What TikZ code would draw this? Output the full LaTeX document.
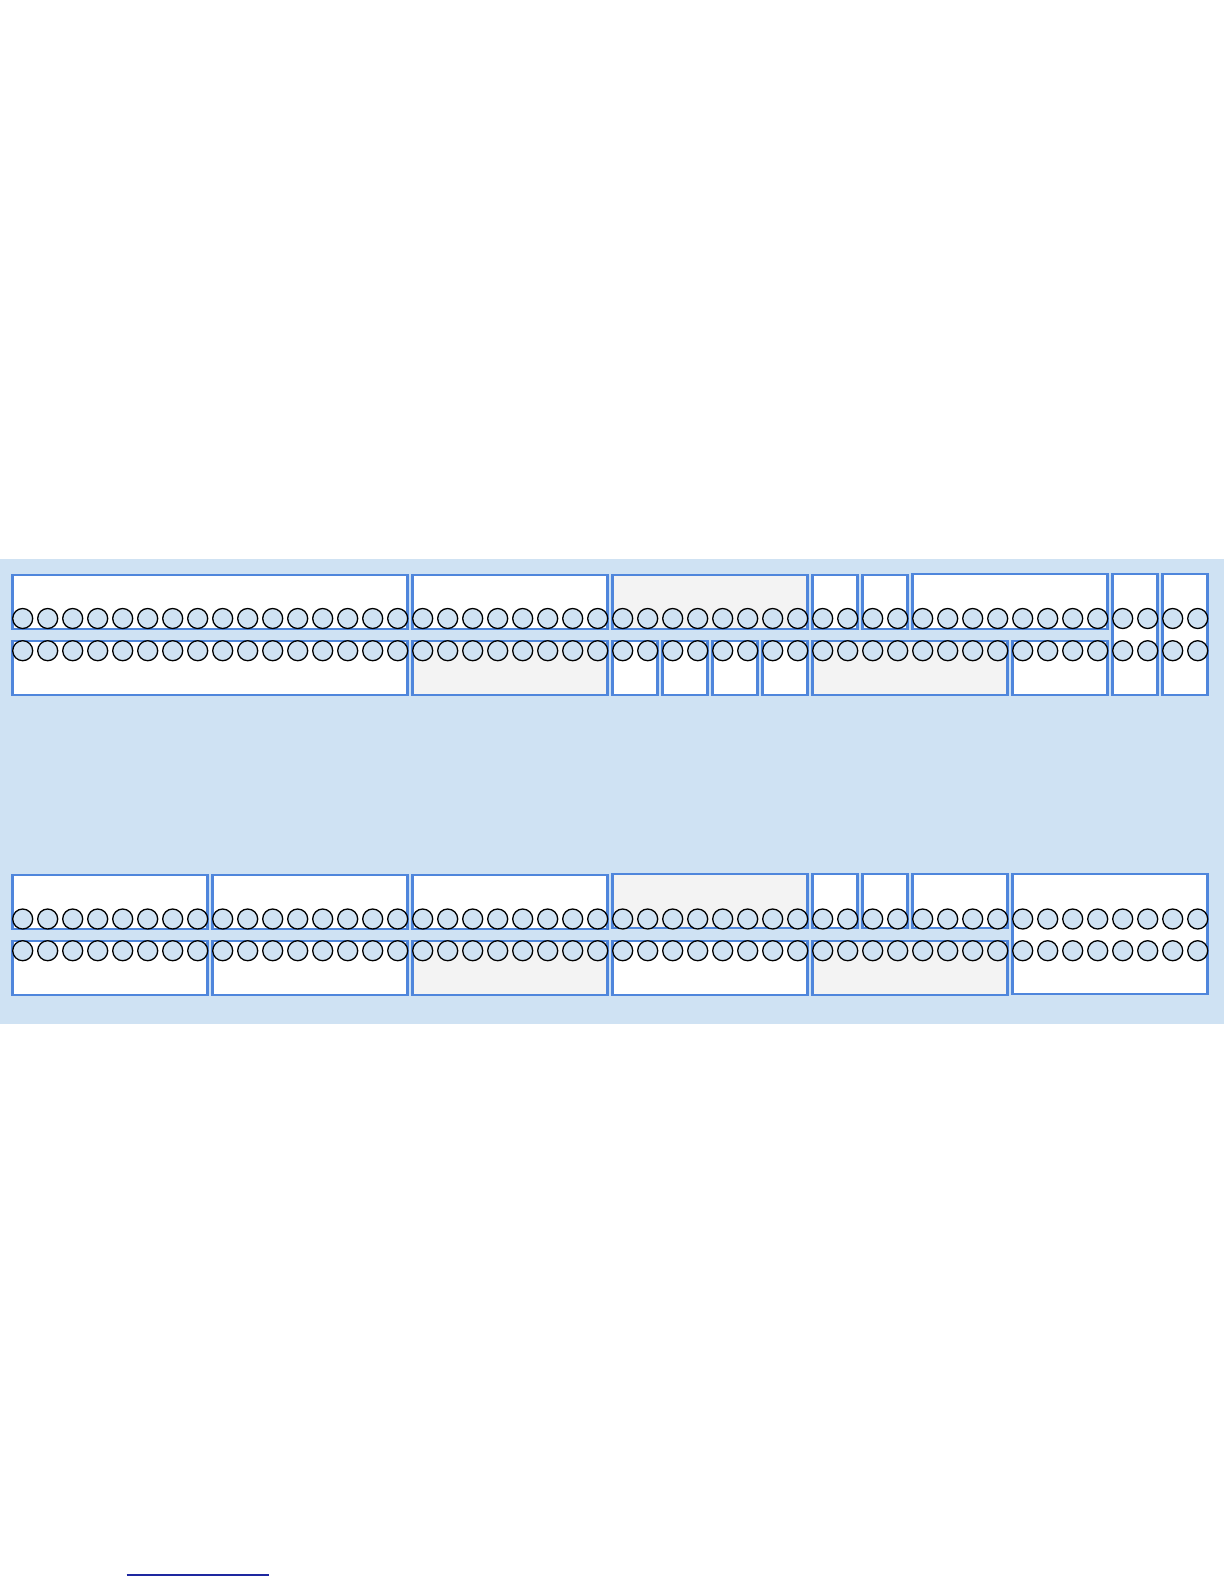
\documentclass[tikz,border=0pt]{standalone}
\usepackage{tikz}
\definecolor{bandblue}{HTML}{CFE2F3}
\definecolor{edgeblue}{HTML}{4F86DC}
\definecolor{panelgray}{HTML}{F3F3F3}
\definecolor{rulenavy}{RGB}{30,40,160}
\tikzset{
  panel/.style={draw=edgeblue, line width=2.6pt, rectangle, inner sep=0pt, outer sep=0pt},
  dot/.style={circle, draw=black, line width=1.3pt, fill=bandblue, minimum size=20pt, inner sep=0pt, outer sep=0pt},
  footrule/.style={draw=rulenavy, line width=1.3pt}
}
\newcommand\rowbox[6]{%
  \pgfmathsetmacro\bxl{12.7+25*#2}%
  \pgfmathsetmacro\bxw{20+25*(#3-#2)}%
  \pgfmathsetmacro\bxh{#5-#4}%
  \node[panel, fill=#6, minimum width=\bxw pt, minimum height=\bxh pt, anchor=north west] (#1) at (\bxl,#4) {};%
}
\begin{document}
\begin{tikzpicture}[x=1pt,y=-1pt]
\useasboundingbox (0,0) rectangle (1224,1584);
\fill[bandblue] (0,558.5) rectangle (1224,1024.3);
% section 1, top row
\rowbox{sa1}{0}{15}{575}{629}{white}
\rowbox{sa2}{16}{23}{575}{629}{white}
\rowbox{sa3}{24}{31}{575}{629}{panelgray}
\rowbox{sa4}{32}{33}{575}{629}{white}
\rowbox{sa5}{34}{35}{575}{629}{white}
\rowbox{sa6}{36}{43}{574}{629}{white}
\rowbox{sa7}{44}{45}{574}{695}{white}
\rowbox{sa8}{46}{47}{574}{695}{white}
% section 1, bottom row
\rowbox{sb1}{0}{15}{641}{695}{white}
\rowbox{sb2}{16}{23}{641}{695}{panelgray}
\rowbox{sb3}{24}{25}{641}{695}{white}
\rowbox{sb4}{26}{27}{641}{695}{white}
\rowbox{sb5}{28}{29}{641}{695}{white}
\rowbox{sb6}{30}{31}{641}{695}{white}
\rowbox{sb7}{32}{39}{641}{695}{panelgray}
\rowbox{sb8}{40}{43}{641}{695}{white}
% section 2, top row
\rowbox{ta1}{0}{7}{875}{929}{white}
\rowbox{ta2}{8}{15}{875}{929}{white}
\rowbox{ta3}{16}{23}{875}{929}{white}
\rowbox{ta4}{24}{31}{874}{928}{panelgray}
\rowbox{ta5}{32}{33}{874}{928}{white}
\rowbox{ta6}{34}{35}{874}{928}{white}
\rowbox{ta7}{36}{39}{874}{928}{white}
\rowbox{ta8}{40}{47}{874}{994}{white}
% section 2, bottom row
\rowbox{tb1}{0}{7}{941}{995}{white}
\rowbox{tb2}{8}{15}{941}{995}{white}
\rowbox{tb3}{16}{23}{941}{995}{panelgray}
\rowbox{tb4}{24}{31}{941}{995}{white}
\rowbox{tb5}{32}{39}{941}{995}{panelgray}
% circles
\foreach \k in {0,...,47} {
  \node[dot] (ca\k) at (22.7+25*\k,618.5) {};
  \node[dot] (cb\k) at (22.7+25*\k,650.7) {};
  \node[dot] (cc\k) at (22.7+25*\k,919) {};
  \node[dot] (cd\k) at (22.7+25*\k,950.7) {};
}
% footnote rule
\coordinate (fl) at (126.7,1575);
\coordinate (fr) at (269,1575);
\draw[footrule] (fl) -- (fr);
\end{tikzpicture}
\end{document}
